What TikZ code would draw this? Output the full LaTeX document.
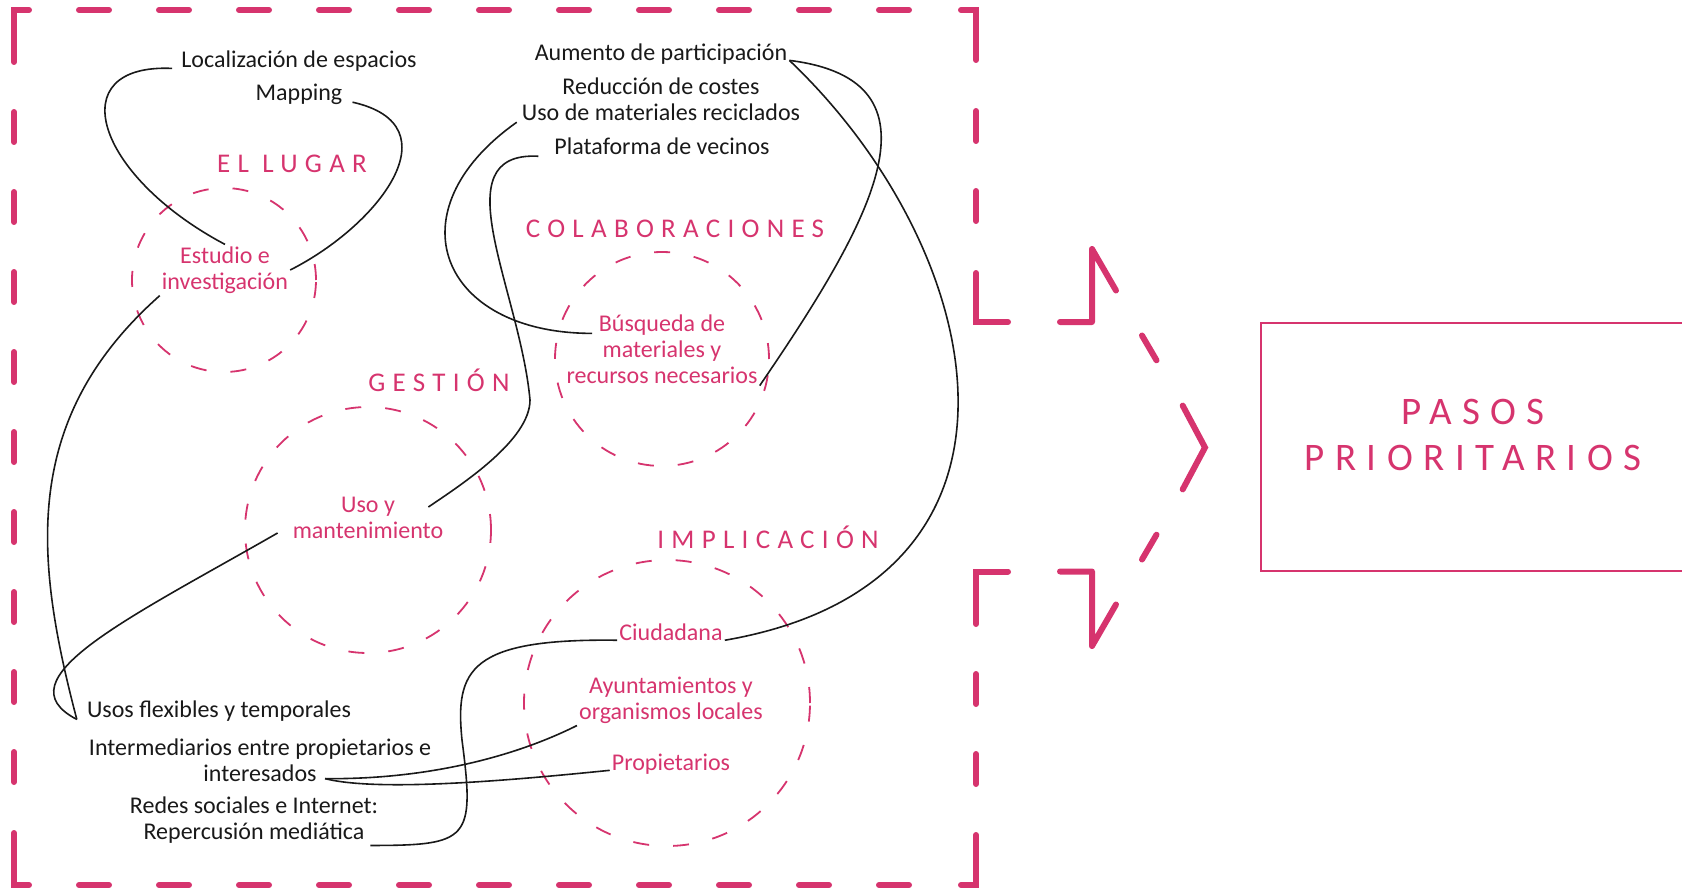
\documentclass[tikz,border=0pt]{standalone}
\usepackage{fontspec}
\setmainfont{Carlito}
\newfontfamily\spaced[LetterSpace=27]{Carlito}
\usetikzlibrary{calc}

\definecolor{rosa}{RGB}{214,52,110}
\definecolor{tinta}{RGB}{25,25,25}

\tikzset{
  txt/.style={text=tinta, font=\fontsize{24}{26}\selectfont, inner sep=2pt, align=center},
  heading/.style={text=rosa, font=\spaced\fontsize{27}{30}\selectfont, inner sep=0pt, anchor=base},
  ring/.style={circle, draw=rosa, line width=1.8pt, dash pattern=on 16pt off 24pt, inner sep=0pt},
  wire/.style={draw=tinta, line width=1.6pt},
  frame/.style={rosa, line width=6pt, line cap=round, line join=miter},
  framedash/.style={frame, dash pattern=on 30pt off 50pt},
}

\begin{document}
\begin{tikzpicture}[x=1pt, y=-1pt]
  \useasboundingbox (0,0) rectangle (1682,888);

  % frame: corner pieces and arrow
  \draw[frame] (14,62) -- (14,10) -- (29,10);
  \draw[frame] (961,10) -- (976,10) -- (976,60);
  \draw[frame] (976,273) -- (976,322) -- (1008,322);
  \draw[frame, line join=round] (1060,322) -- (1092,322) -- (1092,249) -- (1116,290.5);
  \draw[frame] (1142,335.5) -- (1156.5,360.3);
  \draw[frame] (1182.7,405.6) -- (1205,447.5) -- (1182.7,489.4);
  \draw[frame] (1156.5,534.7) -- (1142,559.5);
  \draw[frame, line join=round] (1116,604.5) -- (1092,646) -- (1092,571.5) -- (1060,571.5);
  \draw[frame] (1008,571.5) -- (976,571.5) -- (976,624);
  \draw[frame] (976,835) -- (976,885) -- (961,885);
  \draw[frame] (29,885) -- (14,885) -- (14,833);
  % frame: dashed sides
  \draw[framedash] (79,10) -- (913,10);
  \draw[framedash] (79,885) -- (913,885);
  \draw[framedash] (14,112) -- (14,790);
  \draw[framedash] (976,111) -- (976,225);
  \draw[framedash] (976,674) -- (976,790);

  % rings
  \node[ring, minimum size=184pt] (lugarC) at (224,280) {};
  \node[ring, minimum size=214pt] (colabC) at (662,359) {};
  \node[ring, minimum size=246pt] (gestC) at (368,530) {};
  \node[ring, minimum size=286pt] (implC) at (667,703) {};

  % headings
  \node[heading] (lugar) at (292,172) {EL LUGAR};
  \node[heading] (colab) at (675,237.5) {COLABORACIONES};
  \node[heading] (gest) at (439,391) {GESTIÓN};
  \node[heading] (impl) at (768,548) {IMPLICACIÓN};

  % labels
  \node[txt] (loc) at (299,61) {Localización de espacios};
  \node[txt] (map) at (299,94) {Mapping};
  \node[txt, text=rosa] (est) at (225,270) {Estudio e\\investigación};

  \node[txt] (aum) at (661,54) {Aumento de participación};
  \node[txt] (red) at (661,86) {Reducción de costes};
  \node[txt] (usomat) at (661,112) {Uso de materiales reciclados};
  \node[txt] (plat) at (662,146) {Plataforma de vecinos};
  \node[txt, text=rosa] (bus) at (662,349) {Búsqueda de\\materiales y\\recursos necesarios};

  \node[txt, text=rosa] (uso) at (368,518) {Uso y\\mantenimiento};

  \node[txt, text=rosa] (ciu) at (671,632) {Ciudadana};
  \node[txt, text=rosa] (ayu) at (671,700) {Ayuntamientos y\\organismos locales};
  \node[txt, text=rosa] (prop) at (671,764) {Propietarios};

  \node[txt] (usos) at (219,711) {Usos flexibles y temporales};
  \node[txt] (inter) at (260,760) {Intermediarios entre propietarios e\\interesados};
  \node[txt] (redes) at (254,820) {Redes sociales e Internet:\\Repercusión mediática};

  % target box
  \node[draw=rosa, line width=1.5pt, minimum width=424pt, minimum height=248pt] (caja) at (1473,447) {};
  \node[text=rosa, font=\spaced\fontsize{39}{46}\selectfont, align=center] (pasos) at (1473,435) {PASOS\\PRIORITARIOS};

  \coordinate (usosL) at ($(usos.base west)+(-8,2)$);
  \coordinate (interR) at ($(inter.south)+(65,-5)$);

  % connectors
  \draw[wire] ($(loc.base west)+(-7,1)$) .. controls +(-112,-5) and +(-130,-69) .. (est.north);
  \draw[wire] ($(map.base east)+(8,2)$) .. controls +(103,23) and +(89,-45) .. (est.east);
  \draw[wire] (est.south west) .. controls +(-140,124) and +(-42,-160) .. (usosL);
  \draw[wire] ($(uso.south west)+(-13,-8)$) .. controls +(-150,86) and +(-77,-40) .. (usosL);
  \draw[wire] ($(plat.base west)+(-14,2)$) .. controls +(-98,-5) and +(-10,-110) .. (530,400)
    .. controls +(0,40) and +(34,-23) .. ($(uso.east)+(-17,-11)$);
  \draw[wire] ($(usomat.base west)+(-3,2)$) .. controls +(-126,89) and +(-152,0) .. ($(bus.north)+(-70,21)$);
  \draw[wire] (aum.base east) .. controls +(160,20) and +(115,-168) .. (bus.south east);
  \draw[wire] (aum.base east) .. controls +(200,190) and +(336,-58) .. (ciu.base east);
  \draw[wire] (ciu.base west) .. controls +(-148,-2) and +(-7,-70) .. (462,740)
    .. controls +(13,100) and +(99,0) .. ($(redes.south east)+(-10,0)$);
  \draw[wire] (ayu.south west) .. controls +(-68,34) and +(95,1) .. (interR);
  \draw[wire] (prop.base west) .. controls +(-89,9) and +(55,14) .. (interR);
\end{tikzpicture}
\end{document}
